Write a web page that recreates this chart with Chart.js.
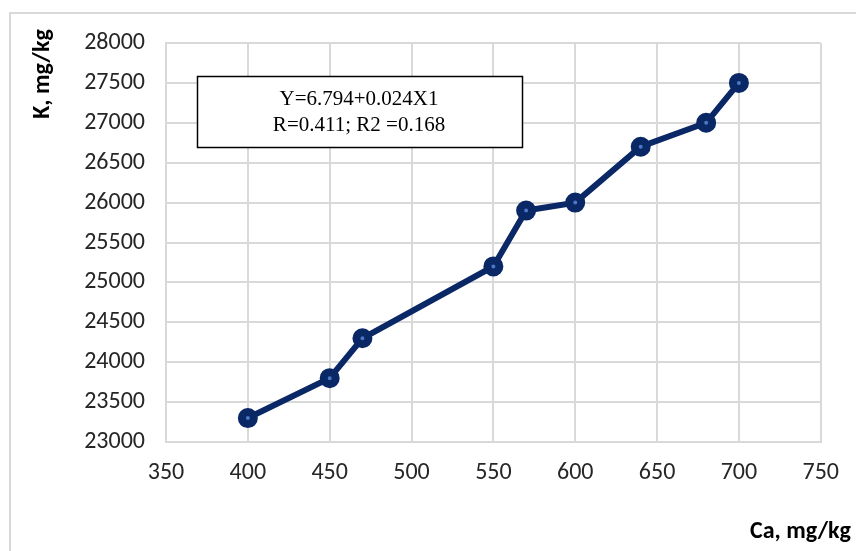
<!DOCTYPE html>
<html>
<head>
<meta charset="utf-8">
<script src="https://cdn.jsdelivr.net/npm/chart.js@4/dist/chart.umd.min.js"></script>
<style>
  html, body { margin: 0; padding: 0; background: #fff; }
  #wrap { width: 856px; height: 551px; position: relative; }
</style>
</head>
<body>
<div id="wrap"><canvas id="c" width="856" height="551"></canvas></div>
<script>
// Calcium vs potassium content
const caValues = [400, 450, 470, 550, 570, 600, 640, 680, 700];
const kValues = [23300, 23800, 24300, 25200, 25900, 26000, 26700, 27000, 27500];
const xTitle = 'Ca, mg/kg';
const yTitle = 'K, mg/kg';
const equationLines = ['Y=6.794+0.024X1', 'R=0.411; R2 =0.168'];

const tickFont = { family: 'Carlito, Lato, "Open Sans", sans-serif', size: 24 };
const gridColor = '#d9d9d9';

const decorations = {
  id: 'decorations',
  beforeDraw(chart) {
    const ctx = chart.ctx;
    ctx.save();
    ctx.strokeStyle = gridColor;
    ctx.lineWidth = 2;
    ctx.strokeRect(10, 13, 900, 600);
    ctx.restore();
  },
  afterDraw(chart) {
    const ctx = chart.ctx;
    ctx.save();
    // equation box
    ctx.fillStyle = '#fff';
    ctx.fillRect(197, 76, 325, 71);
    ctx.strokeStyle = '#000';
    ctx.lineWidth = 1.5;
    ctx.strokeRect(197.5, 76.5, 325, 71);
    ctx.fillStyle = '#000';
    ctx.font = '21px "Liberation Serif", "Times New Roman", serif';
    ctx.textAlign = 'center';
    ctx.textBaseline = 'middle';
    ctx.fillText(equationLines[0], 359, 99);
    ctx.fillText(equationLines[1], 359, 125);
    // axis titles
    ctx.font = 'bold 24px Carlito, Lato, "Open Sans", sans-serif';
    ctx.fillStyle = '#000';
    ctx.textAlign = 'left';
    ctx.textBaseline = 'middle';
    ctx.fillText(xTitle, 750, 532);
    ctx.translate(43, 74);
    ctx.rotate(-Math.PI / 2);
    ctx.textAlign = 'center';
    ctx.fillText(yTitle, 0, 0);
    ctx.restore();
  }
};

new Chart(document.getElementById('c'), {
  type: 'line',
  data: {
    datasets: [{
      data: caValues.map((x, i) => ({ x: x, y: kValues[i] })),
      borderColor: '#0a2766',
      borderWidth: 6,
      pointRadius: 6,
      pointBorderWidth: 8,
      pointBackgroundColor: '#4a78c8',
      pointBorderColor: '#0a2766',
      tension: 0
    }]
  },
  options: {
    responsive: false,
    animation: false,
    layout: { padding: { top: 43, right: 35, left: 0, bottom: 0 } },
    plugins: { legend: { display: false }, tooltip: { enabled: false } },
    scales: {
      x: {
        type: 'linear',
        min: 350, max: 750,
        ticks: { stepSize: 50, color: '#262626', font: tickFont, padding: 17, callback: v => String(v) },
        grid: { color: gridColor, lineWidth: 2, drawTicks: false },
        border: { color: gridColor, width: 2 },
        afterFit(scale) { scale.height = 109; }
      },
      y: {
        min: 23000, max: 28000,
        ticks: { stepSize: 500, color: '#262626', font: tickFont, padding: 21, callback: v => String(v) },
        grid: { color: gridColor, lineWidth: 2, drawTicks: false },
        border: { color: gridColor, width: 2 },
        afterFit(scale) { scale.width = 166; }
      }
    }
  },
  plugins: [decorations]
});
</script>
</body>
</html>
